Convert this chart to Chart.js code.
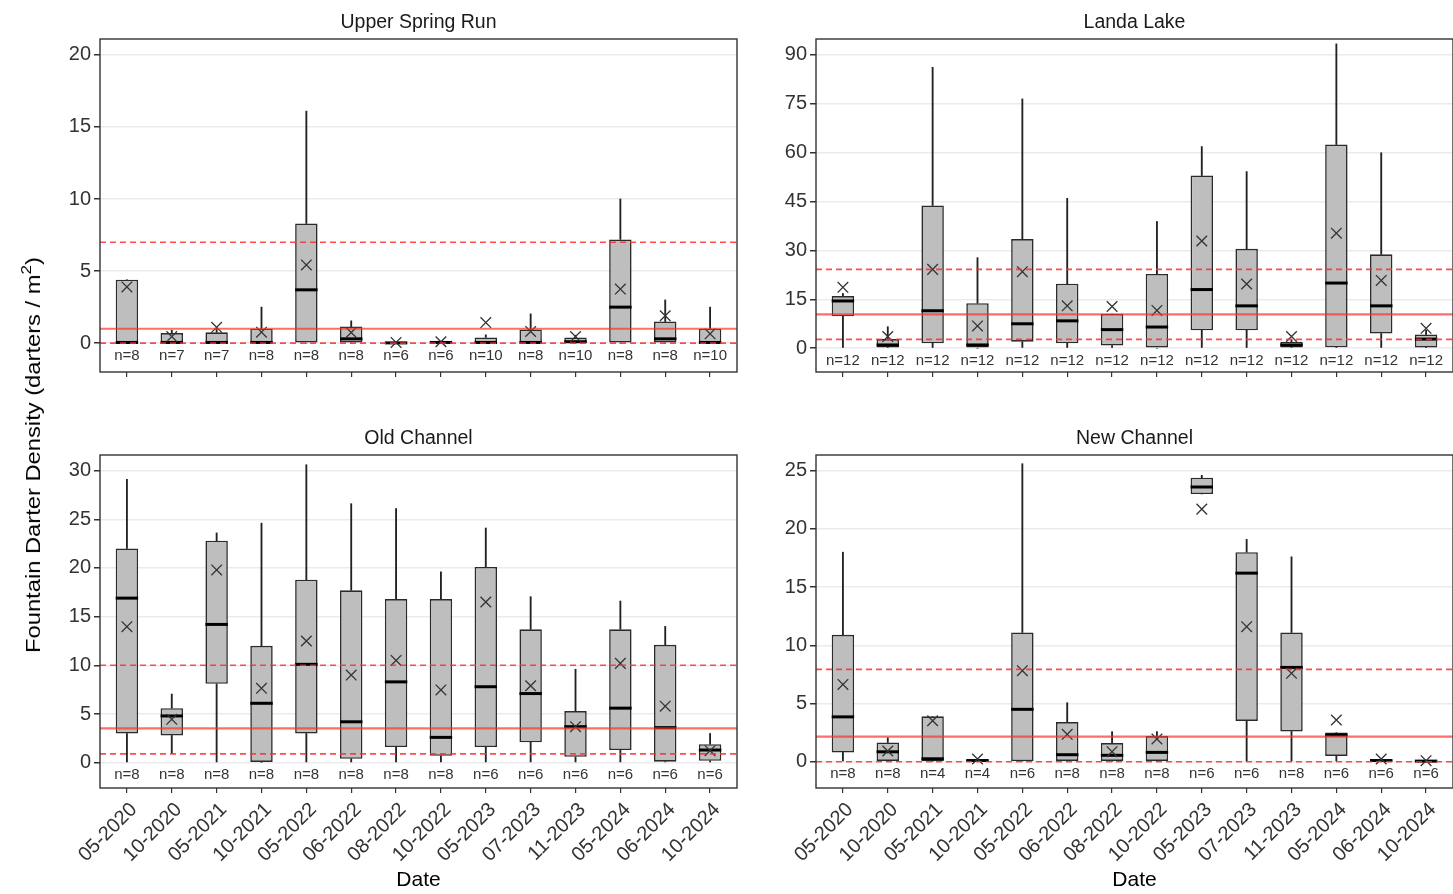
<!DOCTYPE html>
<html>
<head>
<meta charset="utf-8">
<script src="https://cdn.jsdelivr.net/npm/chart.js@4.4.1/dist/chart.umd.min.js"></script>
<style>
  html, body { margin: 0; padding: 0; background: #fff; }
  #wrap { position: relative; width: 1453px; height: 894px; overflow: hidden; background: #fff; }
  #wrap canvas { position: absolute; left: 0; top: 0; }
  #ytitle {
    position: absolute; left: 33px; top: 455px;
    transform: translate(-50%, -50%) rotate(-90deg) scaleX(1.13);
    font: 21px 'Liberation Sans', Arial, sans-serif; color: #000; white-space: nowrap;
  }
  #ytitle sup { font-size: 0.72em; vertical-align: 0.6em; line-height: 0; }
</style>
</head>
<body>
<div id="wrap">
  <canvas id="usr" width="1480" height="894"></canvas>
  <canvas id="ll" width="1480" height="894"></canvas>
  <canvas id="oc" width="1480" height="894"></canvas>
  <canvas id="nc" width="1480" height="894"></canvas>
  <div id="ytitle">Fountain Darter Density (darters / m<sup>2</sup>)</div>
</div>
<script>
// Sampling events shared by all four reaches
const dateLabels = ['05-2020','10-2020','05-2021','10-2021','05-2022','06-2022','08-2022',
                    '10-2022','05-2023','07-2023','11-2023','05-2024','06-2024','10-2024'];

// Upper Spring Run
const usrLow    = [0,0,0,0,0,0,0,0,0,0,0,0,0,0];
const usrQ1     = [0,0,0,0,0,0,0,0,0,0,0,0,0,0];
const usrMedian = [0.05,0.05,0.05,0.05,3.7,0.3,0.02,0.05,0.05,0.05,0.1,2.5,0.3,0.05];
const usrQ3     = [4.4,0.7,0.75,1.0,8.3,1.15,0.05,0.08,0.4,0.95,0.4,7.2,1.5,1.0];
const usrHigh   = [4.4,0.9,1.05,2.5,16.1,1.55,0.05,0.08,0.58,2.03,0.55,10.0,3.0,2.5];
const usrMean   = [3.9,0.46,1.1,0.76,5.43,0.74,0.05,0.1,1.43,0.81,0.46,3.75,1.9,0.65];
const usrN      = [8,7,7,8,8,8,6,6,10,8,10,8,8,10];
const usrRef    = [1.0, 7.0, 0.0];          // benchmark, upper and lower bounds
const usrTicks  = [0,5,10,15,20];

// Landa Lake
const llLow    = [0,0,0,0,0,0,0,0,0,0,0,0,0,0];
const llQ1     = [9.8,0.2,1.5,0,2.0,1.5,0.8,0,5.5,5.5,0.2,0.3,4.5,0.2];
const llMedian = [14.5,1.0,11.5,1.0,7.5,8.4,5.7,6.5,18,13,1.0,20,13,2.8];
const llQ3     = [16,2.8,43.8,13.8,33.5,19.8,10.5,22.8,53,30.5,2.0,62.5,28.8,4.2];
const llHigh   = [16.8,6.6,86.2,27.8,76.5,46,10.5,38.9,61.9,54.2,2.6,93.4,60,5.5];
const llMean   = [18.7,3.6,24.2,6.85,23.5,13.0,12.8,11.6,32.9,19.7,3.6,35.3,20.8,6.1];
const llN      = [12,12,12,12,12,12,12,12,12,12,12,12,12,12];
const llRef    = [10.4, 24.2, 2.7];
const llTicks  = [0,15,30,45,60,75,90];

// Old Channel
const ocLow    = [0,0.95,0,0,0,0,0,0,0,0,0,0,0,0];
const ocQ1     = [3.0,2.8,8.1,0,3.0,0.4,1.6,0.7,1.6,2.1,0.6,1.3,0.1,0.2];
const ocMedian = [16.9,4.8,14.2,6.1,10.1,4.2,8.3,2.6,7.8,7.1,3.7,5.6,3.6,1.3];
const ocQ3     = [22,5.6,22.8,12,18.8,17.7,16.8,16.8,20.1,13.7,5.3,13.7,12.1,1.9];
const ocHigh   = [29.1,7.05,23.6,24.6,30.6,26.6,26.1,19.6,24.1,17.05,9.6,16.6,14.0,3.0];
const ocMean   = [13.97,4.45,19.8,7.64,12.5,9.0,10.5,7.47,16.5,7.9,3.7,10.2,5.8,1.23];
const ocN      = [8,8,8,8,8,8,8,8,6,6,6,6,6,6];
const ocRef    = [3.53, 10.0, 0.9];
const ocTicks  = [0,5,10,15,20,25,30];

// New Channel
const ncLow    = [0,0,0,0.05,0,0,0,0,23.0,0,0,0,0.05,0.02];
const ncQ1     = [0.8,0,0,0.05,0.05,0,0,0,23.0,3.5,2.6,0.5,0.05,0.02];
const ncMedian = [3.85,0.85,0.25,0.1,4.5,0.6,0.55,0.8,23.6,16.2,8.1,2.3,0.1,0.05];
const ncQ3     = [10.9,1.65,3.9,0.15,11.1,3.4,1.6,2.2,24.4,18.0,11.1,2.5,0.15,0.1];
const ncHigh   = [18.0,2.06,3.9,0.15,25.6,5.07,2.58,2.58,24.6,19.1,17.6,2.5,0.15,0.1];
const ncMean   = [6.64,0.92,3.52,0.23,7.82,2.35,0.86,1.95,21.7,11.6,7.59,3.58,0.23,0.09];
const ncN      = [8,8,4,4,6,8,8,8,6,6,8,6,6,6];
const ncRef    = [2.15, 7.93, 0.0];
const ncTicks  = [0,5,10,15,20,25];

const FONT = "'Liberation Sans', Arial, sans-serif";
const CANVAS_W = 1480, CANVAS_H = 894;
const Y_AXIS_W = 50;
const positions = dateLabels.map((_, i) => i);

// Title, sample sizes, reference lines and frame for one facet
function facetDecor(cfg) {
  return {
    id: 'facetDecor',
    afterDatasetsDraw(chart) {
      const { ctx, chartArea: a, scales: { x, y } } = chart;
      ctx.save();
      ctx.beginPath();
      ctx.rect(a.left, a.top, a.right - a.left, a.bottom - a.top);
      ctx.clip();
      cfg.ref.forEach((v, k) => {
        const py = y.getPixelForValue(v);
        ctx.beginPath();
        if (k === 0) {
          ctx.setLineDash([]);
          ctx.lineWidth = 2.2;
          ctx.strokeStyle = 'rgba(255,45,45,0.7)';
        } else {
          ctx.setLineDash([6, 4]);
          ctx.lineWidth = 1.6;
          ctx.strokeStyle = 'rgba(255,45,45,0.85)';
        }
        ctx.moveTo(a.left, py);
        ctx.lineTo(a.right, py);
        ctx.stroke();
      });
      ctx.restore();

      ctx.save();
      ctx.font = `15px ${FONT}`;
      ctx.fillStyle = '#333';
      ctx.textAlign = 'center';
      ctx.textBaseline = 'middle';
      const ny = y.getPixelForValue(0) + 12.5;
      cfg.n.forEach((nv, i) => ctx.fillText('n=' + nv, x.getPixelForValue(i), ny));

      ctx.setLineDash([]);
      ctx.strokeStyle = '#333';
      ctx.lineWidth = 1.4;
      ctx.strokeRect(a.left, a.top, a.right - a.left, a.bottom - a.top);

      ctx.font = `19.5px ${FONT}`;
      ctx.fillStyle = '#1a1a1a';
      ctx.fillText(cfg.title, (a.left + a.right) / 2, a.top - 16);
      if (cfg.showDates) {
        ctx.font = `21px ${FONT}`;
        ctx.fillStyle = '#000';
        ctx.fillText('Date', (a.left + a.right) / 2, a.bottom + 92);
      }
      ctx.restore();
    }
  };
}

function drawFacet(id, cfg) {
  const xh = cfg.showDates ? 90 : 20;
  const halfBox = (ctx) => {
    const s = ctx.chart.scales.x;
    return Math.abs(s.getPixelForValue(0.25) - s.getPixelForValue(0));
  };
  new Chart(document.getElementById(id), {
    type: 'bar',
    data: {
      datasets: [
        { type: 'line', label: 'Mean', order: 0, showLine: false,
          data: positions.map(i => ({ x: i, y: cfg.mean[i] })),
          pointStyle: 'crossRot', pointRadius: 7.5, pointBorderWidth: 1.3,
          pointBorderColor: '#333', pointBackgroundColor: 'rgba(0,0,0,0)' },
        { type: 'line', label: 'Median', order: 1, showLine: false,
          data: positions.map(i => ({ x: i, y: cfg.median[i] })),
          pointStyle: 'line', pointRadius: halfBox, pointBorderWidth: 3,
          pointBorderColor: '#000' },
        { label: 'Interquartile range', order: 2,
          data: positions.map(i => ({ x: i, y: [cfg.q1[i], cfg.q3[i]] })),
          backgroundColor: '#bebebe', borderColor: '#2b2b2b', borderWidth: 1.6,
          borderSkipped: false, barPercentage: 0.5, categoryPercentage: 1 },
        { label: 'Upper whisker', order: 3,
          data: positions.map(i => ({ x: i, y: [cfg.q3[i], cfg.high[i]] })),
          backgroundColor: '#222', borderWidth: 0, barThickness: 1.2 },
        { label: 'Lower whisker', order: 3,
          data: positions.map(i => ({ x: i, y: [cfg.low[i], cfg.q1[i]] })),
          backgroundColor: '#222', borderWidth: 0, barThickness: 1.2 }
      ]
    },
    options: {
      responsive: false,
      animation: false,
      events: [],
      layout: { padding: {
        left: cfg.area.left - Y_AXIS_W,
        right: CANVAS_W - cfg.area.right,
        top: cfg.area.top,
        bottom: CANVAS_H - cfg.area.bottom - xh
      } },
      datasets: { bar: { grouped: false } },
      plugins: { legend: { display: false }, tooltip: { enabled: false }, title: { display: false } },
      scales: {
        x: {
          type: 'linear', min: -0.6, max: 13.6, offset: false,
          afterBuildTicks: s => { s.ticks = positions.map(v => ({ value: v })); },
          afterFit: s => { s.height = xh; },
          grid: { drawOnChartArea: false, offset: false, tickColor: '#333', tickLength: 5, lineWidth: 1.2 },
          border: { display: false },
          ticks: {
            autoSkip: false, minRotation: 45, maxRotation: 45, padding: 5, labelOffset: 7,
            color: '#333', font: { family: FONT, size: 20 },
            callback: v => (cfg.showDates ? dateLabels[v] : '')
          }
        },
        y: {
          min: cfg.yMin, max: cfg.yMax,
          afterBuildTicks: s => { s.ticks = cfg.ticks.map(v => ({ value: v })); },
          afterFit: s => { s.width = Y_AXIS_W; },
          grid: { color: '#ebebeb', lineWidth: 1.5, tickColor: '#333', tickLength: 6 },
          border: { display: false },
          ticks: { padding: 3, color: '#333', font: { family: FONT, size: 20 } }
        }
      }
    },
    plugins: [facetDecor(cfg)]
  });
}

drawFacet('usr', { title: 'Upper Spring Run', low: usrLow, q1: usrQ1, median: usrMedian, q3: usrQ3,
  high: usrHigh, mean: usrMean, n: usrN, ref: usrRef, ticks: usrTicks, yMin: -2.0, yMax: 21.1,
  area: { left: 100, right: 737, top: 39, bottom: 372 }, showDates: false });

drawFacet('ll', { title: 'Landa Lake', low: llLow, q1: llQ1, median: llMedian, q3: llQ3,
  high: llHigh, mean: llMean, n: llN, ref: llRef, ticks: llTicks, yMin: -7.3, yMax: 94.9,
  area: { left: 816, right: 1453, top: 39, bottom: 372 }, showDates: false });

drawFacet('oc', { title: 'Old Channel', low: ocLow, q1: ocQ1, median: ocMedian, q3: ocQ3,
  high: ocHigh, mean: ocMean, n: ocN, ref: ocRef, ticks: ocTicks, yMin: -2.6, yMax: 31.6,
  area: { left: 100, right: 737, top: 455, bottom: 788 }, showDates: true });

drawFacet('nc', { title: 'New Channel', low: ncLow, q1: ncQ1, median: ncMedian, q3: ncQ3,
  high: ncHigh, mean: ncMean, n: ncN, ref: ncRef, ticks: ncTicks, yMin: -2.26, yMax: 26.35,
  area: { left: 816, right: 1453, top: 455, bottom: 788 }, showDates: true });
</script>
</body>
</html>
